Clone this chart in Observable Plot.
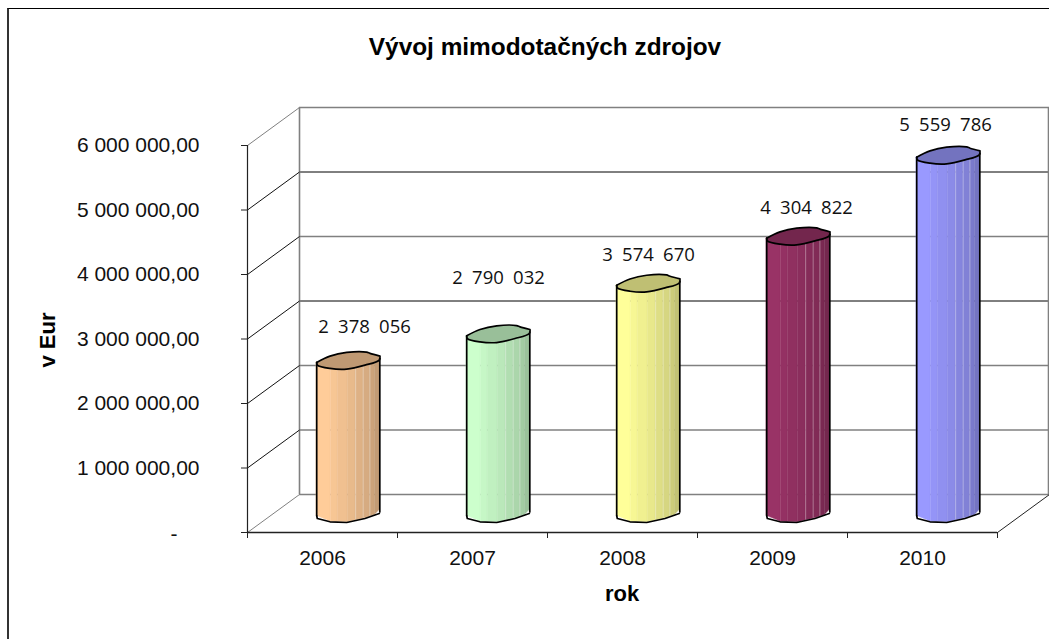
<!DOCTYPE html>
<html><head><meta charset="utf-8">
<script src="https://cdn.jsdelivr.net/npm/d3@7"></script>
<script src="https://cdn.jsdelivr.net/npm/@observablehq/plot@0.6"></script>
<style>
html,body{margin:0;padding:0;background:#fff;overflow:hidden}
#chart{position:relative;width:1049px;height:639px}
#chart svg{display:block;position:absolute;left:0;top:0}
#box{position:absolute;left:7px;top:8px;width:1100px;height:700px;border-top:1px solid #000;border-left:2px solid #333}
.vals text{word-spacing:4.5px}
</style></head><body>
<div id="chart"><div id="box"></div></div>
<script>
const years=["2006","2007","2008","2009","2010"];
const values=[2378056,2790032,3574670,4304822,5559786];
const valueLabels=["2 378 056","2 790 032","3 574 670","4 304 822","5 559 786"];
const baseColors=["#FFCC99","#CCFFCC","#FFFF99","#993366","#9999FF"];
const yTicks=[0,1e6,2e6,3e6,4e6,5e6,6e6];
const yTickLabels=["-","1 000 000,00","2 000 000,00","3 000 000,00","4 000 000,00","5 000 000,00","6 000 000,00"];

// projection of the 3D box: the depth is expressed as a pixel offset
const depthX=52, depthY=-38;
const plotL=247, plotR=997, plotB=532, plotT=145;
const pxX=(plotR-plotL)/5, pxY=(plotB-plotT)/6e6;
const ux=p=>p/pxX, uy=p=>-p/pxY;
// cap outline, in pixels relative to the column centre
const lower=[[-31.8,2.3],[-31.2,5],[-18.5,8.3],[-1.8,9],[16.5,5],[30.8,0],[31.5,-4]];
const upper=[[31.5,-4],[21.5,-6.7],[18,-8],[-1.8,-7.7],[-18.5,-4],[-31.8,2.3]];
const edges=[-31.8,-17.5,-10.8,-0.8,7.2,14.8,21.5,26.5,31.5];
const shades=[1,.97,.94,.91,.87,.84,.8,.76];
const pale=[7.2,14.8,21.5];
// label nudges of the hand-placed data labels, in pixels
const labelDx=[16,0,0,8,-3];
const labelDy=[-32.6,-55,-28,-28,-30];
const lowerY=p=>{for(let i=1;i<lower.length;i++){const a=lower[i-1],b=lower[i];if(p<=b[0])return a[1]+(b[1]-a[1])*(p-a[0])/(b[0]-a[0]);}return lower[lower.length-1][1];};
const shade=(c,k)=>{const r=d3.rgb(c);return d3.rgb(r.r*k,r.g*k,r.b*k).formatHex();};

const stripes=[],caps=[],outlines=[],sides=[];
years.forEach((y,i)=>{
  const cx=i+.5, v=values[i], col=baseColors[i];
  edges.slice(0,-1).forEach((e,s)=>{
    [e,edges[s+1]].forEach(p=>stripes.push({id:i+"-"+s,x:cx+ux(p),y1:uy(lowerY(p)),y2:v+uy(lowerY(p)),fill:shade(col,shades[s])}));
  });
  pale.forEach(p=>sides.push({x:cx+ux(p),y1:uy(lowerY(p)),y2:v+uy(lowerY(p)),bar:i}));
  lower.concat(upper).forEach(o=>caps.push({id:i,x:cx+ux(o[0]),y:v+uy(o[1]),fill:shade(col,.75)}));
  const base=lower.map(o=>({id:i,x:cx+ux(o[0]),y:uy(o[1])})).slice(0,-1);
  outlines.push({id:"s"+i,x:cx+ux(-31.8),y:uy(2.3)},{id:"s"+i,x:cx+ux(-31.8),y:v+uy(2.3)});
  outlines.push({id:"r"+i,x:cx+ux(31.3),y:uy(-1.5)},{id:"r"+i,x:cx+ux(31.3),y:v+uy(-1.5)});
  base.forEach(b=>outlines.push({...b,id:"b"+i}));
});
const back={dx:depthX,dy:depthY}, mid={dx:depthX/2,dy:depthY/2};
const blackGrid=new Set([5e6,3e6]);
const labelRows=valueLabels.map((t,i)=>({t,x:i+.5+ux(depthX/2+labelDx[i]),y:values[i]+uy(depthY/2+labelDy[i])}));

const plot=Plot.plot({
  width:1049,height:639,
  marginLeft:plotL,marginRight:1049-plotR,marginTop:plotT,marginBottom:639-plotB,
  x:{type:"linear",domain:[0,5],axis:null},
  y:{type:"linear",domain:[0,6e6],axis:null},
  color:{type:"identity"},
  style:{background:"transparent",overflow:"visible"},
  marks:[
    // back wall
    Plot.ruleY(yTicks,{y:d=>d,x1:0,x2:5,...back,stroke:d=>blackGrid.has(d)?"#000":"#808080",strokeWidth:d=>blackGrid.has(d)?1:1.4}),
    Plot.ruleX([0],{y1:0,y2:6e6,...back,stroke:"#808080",strokeWidth:1.6}),
    Plot.ruleX([5],{y1:0,y2:6e6,dx:depthX-1,dy:depthY,stroke:"#808080",strokeWidth:1.6}),
    // left wall diagonals
    Plot.link(yTicks,{x1:()=>0,x2:()=>ux(depthX),y1:d=>d,y2:d=>d+uy(depthY),stroke:d=>d===0||d===6e6?"#808080":"#111",strokeWidth:1}),
    Plot.link([5],{x1:d=>d,x2:d=>d+ux(depthX),y1:()=>0,y2:()=>uy(depthY),stroke:"#222",strokeWidth:1}),
    // columns
    Plot.areaY(stripes,{x:"x",y1:"y1",y2:"y2",z:"id",fill:"fill",stroke:"fill",strokeWidth:.4,...mid,curve:"linear"}),
    Plot.ruleX(sides,{x:"x",y1:"y1",y2:"y2",...mid,stroke:"#fff",strokeOpacity:.3,strokeWidth:1}),
    Plot.line(caps,{x:"x",y:"y",z:"id",fill:"fill",stroke:"#000",strokeWidth:1.7,...mid,curve:"catmull-rom"}),
    Plot.line(outlines,{x:"x",y:"y",z:"id",stroke:"#000",strokeWidth:1.7,...mid,curve:"linear"}),
    // front axes
    Plot.ruleX([0],{y1:0,y2:6e6,stroke:"#222",strokeWidth:1.2}),
    Plot.ruleY([0],{x1:0,x2:5,stroke:"#222",strokeWidth:1.4}),
    Plot.ruleY(yTicks,{y:d=>d,x1:ux(-6),x2:0,stroke:"#222"}),
    Plot.ruleX([0,1,2,3,4,5],{y1:0,y2:uy(6),stroke:"#222"}),
    Plot.text(yTickLabels.slice(1),{x:()=>0,y:(d,i)=>yTicks[i+1],text:d=>d,dx:-48,textAnchor:"end",fontFamily:"Liberation Sans",fontSize:21,fill:"#111"}),
    Plot.text(yTickLabels.slice(0,1),{x:()=>0,y:()=>yTicks[0],text:d=>d,dx:-70,dy:2,textAnchor:"end",fontFamily:"Liberation Sans",fontSize:21,fill:"#111"}),
    Plot.text(years,{x:(d,i)=>i+.5,y:()=>0,text:d=>d,dy:25.5,fontFamily:"Liberation Sans",fontSize:21,fill:"#111"}),
    Plot.text(labelRows,{x:"x",y:"y",text:"t",className:"vals",fontFamily:"Open Sans",fontSize:18.5,fill:"#111"}),
  ]
});
document.getElementById("chart").appendChild(plot);
const svg=d3.select(plot);
const T=(x,y,t,o={})=>svg.append("text").attr("x",x).attr("y",y).attr("dy","0.35em").attr("text-anchor","middle").attr("font-family","Liberation Sans").attr("font-weight","bold").attr("font-size",o.s||22).attr("transform",o.r?`rotate(-90 ${x} ${y})`:null).text(t);
T(545,46,"Vývoj mimodotačných zdrojov",{s:24.4});
T(622,593,"rok");
T(47,340,"v Eur",{r:1});
</script></body></html>
